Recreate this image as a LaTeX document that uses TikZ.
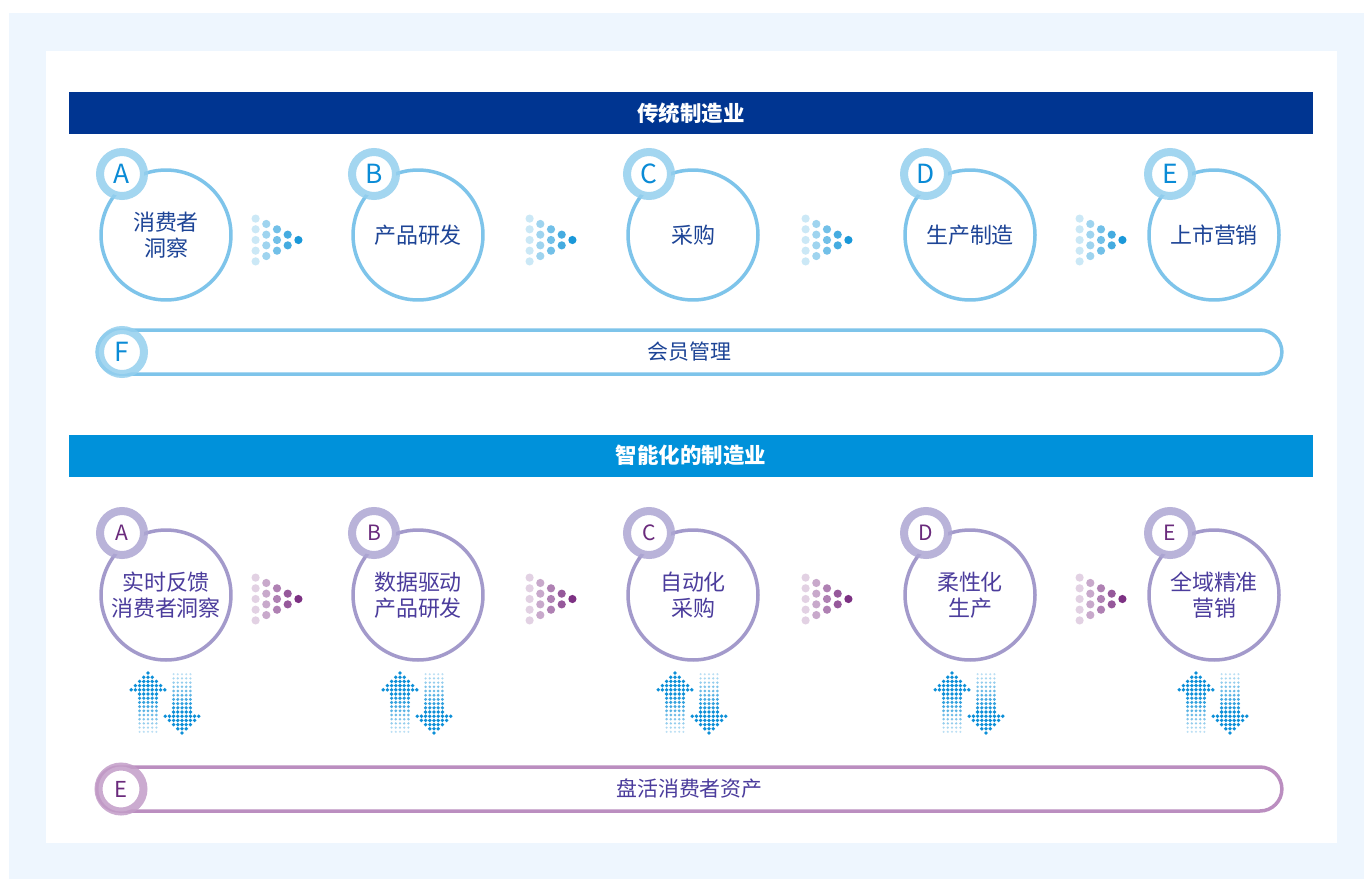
\documentclass[tikz,border=0pt]{standalone}
\usepackage{fontspec}
\setmainfont{Noto Sans CJK SC}
\usetikzlibrary{positioning}

\definecolor{navy}{HTML}{003591}
\definecolor{sky}{HTML}{0091DA}
\definecolor{bgblue}{HTML}{EEF6FE}
\definecolor{ringblue}{HTML}{7EC4EA}
\definecolor{badgeblue}{HTML}{94CFEE}
\definecolor{letterblue}{HTML}{0A8BD6}
\definecolor{textblue}{HTML}{1D4496}
\definecolor{ringpurple}{HTML}{A39ACB}
\definecolor{badgepurple}{HTML}{ADA6D3}
\definecolor{letterpurple}{HTML}{6A2A7C}
\definecolor{textpurple}{HTML}{4B3C9C}
\definecolor{barpurple}{HTML}{BB8EC0}
\definecolor{badgepink}{HTML}{C39DC8}
\definecolor{dotblue}{HTML}{1596D8}
\definecolor{dotpurple}{HTML}{7A2D80}
\definecolor{arrowblue}{HTML}{0C8FD8}

\tikzstyle{stage}=[circle,draw=ringblue,line width=0.07cm,minimum size=2.6cm,inner sep=0pt,align=center,text=textblue,font=\fontsize{12.5}{14.4}\selectfont]
\tikzstyle{smartstage}=[stage,draw=ringpurple,text=textpurple,font=\fontsize{12.5}{14.8}\selectfont]
\tikzstyle{badge}=[circle,fill=white,draw=badgeblue,draw opacity=0.85,line width=0.16cm,minimum size=0.88cm,inner sep=0pt,text=letterblue,font=\fontsize{15}{16}\selectfont]
\tikzstyle{smartbadge}=[badge,draw=badgepurple,text=letterpurple,font=\fontsize{12}{13}\selectfont]
\tikzstyle{header}=[fill=navy,text=white,minimum width=24.88cm,minimum height=0.84cm,inner sep=0pt,font=\bfseries\fontsize{12.2}{13}\selectfont]
\tikzstyle{bar}=[draw=ringblue,line width=0.07cm,rounded corners=0.44cm,minimum width=23.7cm,minimum height=0.88cm,inner sep=0pt,text=textblue,font=\fontsize{11.9}{13}\selectfont]

\begin{document}
\begin{tikzpicture}[x=0.02cm,y=-0.02cm]

    \useasboundingbox (0,0) rectangle (1364,879);
    \fill[bgblue] (9,13) rectangle (1364,879);
    \fill[white] (46,51) rectangle (1337,843);

    % traditional manufacturing
    \node[header] (old) at (691,113) {传统制造业};

    \foreach \x/\name/\txt in {166/A/{消费者\\洞察}, 418/B/产品研发, 693/C/采购, 970/D/生产制造, 1214/E/上市营销}
        \node[stage] (old\name) at (\x,235) {\txt};
    \foreach \x/\name in {166/A, 418/B, 693/C, 970/D, 1214/E}
        \node[badge] (oldbadge\name) at (\x-44,174) {\name};

    \node[bar] (member) at (689.5,352) {会员管理};
    \node[badge] (memberbadge) at (122,352) {F};

    % smart manufacturing
    \node[header, fill=sky] (smart) at (691,455.5) {智能化的制造业};

    \foreach \x/\name/\txt in {166/A/{实时反馈\\消费者洞察}, 418/B/{数据驱动\\产品研发}, 693/C/{自动化\\采购}, 970/D/{柔性化\\生产}, 1214/E/{全域精准\\营销}}
        \node[smartstage] (smart\name) at (\x,595) {\txt};
    \foreach \x/\name in {166/A, 418/B, 693/C, 970/D, 1214/E}
        \node[smartbadge] (smartbadge\name) at (\x-44,533) {\name};

    \node[bar, draw=barpurple, text=textpurple] (assets) at (689.5,789) {盘活消费者资产};
    \node[smartbadge, draw=badgepink, minimum size=0.9cm, font=\fontsize{12.5}{13}\selectfont] (assetsbadge) at (121,789) {E};

    % dotted chevrons between the stages
    \foreach \cx/\cy/\col in {277/240/dotblue, 551/240/dotblue, 827/240/dotblue, 1101/240/dotblue,
                              277/599/dotpurple, 551/599/dotpurple, 827/599/dotpurple, 1101/599/dotpurple}
        \foreach \c in {0,...,4} {
            \pgfmathtruncatemacro\n{4-\c}
            \pgfmathtruncatemacro\shade{22+19*\c}
            \foreach \r in {0,...,\n}
                \fill[\col!\shade] (\cx-21.4+\c*10.7, \cy-\n*5.35+\r*10.7) circle (0.082cm);
        }

    % dotted up/down arrows under the stages
    \foreach \cx in {166, 418, 693, 970, 1214} {
        \foreach \j in {0,...,4}
            \foreach \i in {-\j,...,\j} {
                \fill[arrowblue] (\cx-18+\i*4.2, 673+\j*4.2) circle (0.038cm);
                \fill[arrowblue] (\cx+16+\i*4.2, 733-\j*4.2) circle (0.038cm);
            }
        \foreach \k in {0,...,9} {
            \pgfmathsetmacro\op{1-\k*0.08}
            \pgfmathsetmacro\rad{0.038-\k*0.0017}
            \foreach \i in {-2,...,2} {
                \fill[arrowblue, fill opacity=\op] (\cx-18+\i*4.2, 694+\k*4.2) circle (\rad cm);
                \fill[arrowblue, fill opacity=\op] (\cx+16+\i*4.2, 712-\k*4.2) circle (\rad cm);
            }
        }
    }

\end{tikzpicture}
\end{document}
